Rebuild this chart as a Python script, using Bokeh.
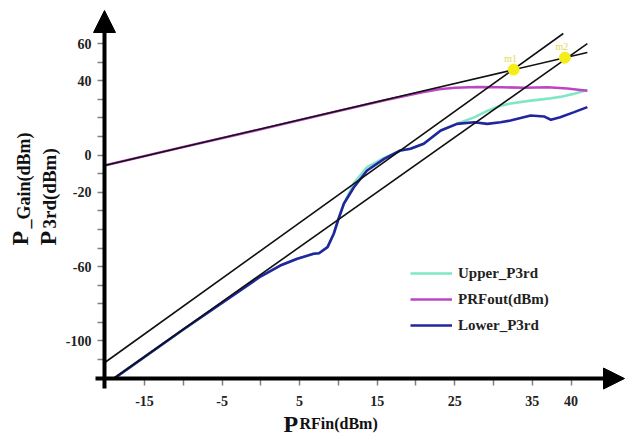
import math
from bokeh.plotting import figure
from bokeh.models import (Range1d, FixedTicker, Label, Arrow, NormalHead,
                          Legend, LegendItem)
from bokeh.core.properties import value
from bokeh.embed import file_html
from bokeh.resources import INLINE

# ---------------- data ----------------
pin_p3rd = [-19.0, -10.0, 0.0, 2.5, 4.7, 6.8, 7.5, 8.6, 9.4, 10.0, 10.7, 12.0,
            13.7, 15.9, 18.0, 19.3, 21.0, 23.2, 25.3, 27.5, 29.2, 30.9, 32.2,
            34.8, 36.5, 37.4, 38.6, 40.4, 42.1]
lower_p3rd = [-120.4, -93.8, -65.2, -59.4, -55.8, -53.1, -52.8, -49.5, -42.3,
              -34.5, -26.2, -17.3, -8.3, -2.0, 2.5, 3.4, 6.1, 13.2, 16.8, 17.7,
              16.8, 17.7, 18.6, 21.3, 20.8, 19.0, 20.4, 23.1, 25.8]
upper_p3rd = [-120.4, -93.8, -65.2, -59.4, -55.8, -53.1, -52.8, -49.5, -42.3,
              -34.5, -26.2, -15.0, -6.5, -1.5, 2.5, 3.4, 6.1, 13.2, 16.9, 20.3,
              23.8, 26.5, 27.8, 29.3, 30.1, 30.6, 31.3, 33.0, 35.0]

pin_prf = [-20.16, -10.0, 0.0, 10.0, 16.0, 19.0, 21.0, 23.0, 25.0, 28.0, 31.0,
           34.0, 37.0, 39.5, 42.1]
prfout = [-5.6, 4.3, 13.9, 23.7, 29.5, 32.2, 34.0, 35.4, 36.2, 36.6, 36.5,
          36.2, 36.5, 35.8, 34.6]

# extrapolation lines (fundamental slope ~1, third order slope ~3)
fund_x = [-20.16, 42.1]
fund_y = [-5.6, 55.2]
upper3_x = [-20.16, 39.0]
upper3_y = [-111.7, 65.4]
lower3_x = [-19.0, 42.1]
lower3_y = [-120.2, 60.0]

# intercept markers
mark_x = [32.6, 39.2]
mark_y = [46.0, 52.4]
mark_names = ["m1", "m2"]

x_ticks = [-15, -10, -5, 0, 5, 10, 15, 20, 25, 30, 35, 40]
x_labeled = [-15, -5, 5, 15, 25, 35, 40]
y_ticks = list(range(-110, 61, 10))
y_labeled = [60, 40, 0, -20, -60, -100]

# axes cross at
X_AX, Y_AX = -20.16, -120.2

# ---------------- layout ----------------
W, H = 625, 439
X0, X1 = -33.57, 47.02
Y0, Y1 = -152.99, 83.16


def dx(px):
    return X0 + px * (X1 - X0) / W


def dy(py):
    return Y1 - py * (Y1 - Y0) / H


FONT = "Liberation Serif"

p = figure(width=W, height=H, output_backend="svg", toolbar_location=None,
           x_range=Range1d(X0, X1), y_range=Range1d(Y0, Y1),
           min_border=0)
p.outline_line_color = None
p.grid.visible = False
p.background_fill_color = "white"
p.border_fill_color = "white"

p.xaxis.fixed_location = Y_AX
p.yaxis.fixed_location = X_AX
for ax, ticks, labeled in ((p.xaxis[0], x_ticks, x_labeled),
                           (p.yaxis[0], y_ticks, y_labeled)):
    ax.ticker = FixedTicker(ticks=ticks)
    ax.major_label_overrides = {t: ("" if t not in labeled else str(t)) for t in ticks}
    ax.axis_line_color = None
    ax.major_tick_line_color = "#808080"
    ax.major_tick_line_width = 1.5
    ax.major_tick_in = 0
    ax.major_tick_out = 7
    ax.minor_tick_line_color = None
    ax.major_label_text_font = FONT
    ax.major_label_text_font_style = "bold"
    ax.major_label_text_font_size = "14px"
    ax.major_label_text_color = "#222222"
p.yaxis.major_label_standoff = 6
p.xaxis.major_label_standoff = 10

# curves
r_up = p.line(pin_p3rd, upper_p3rd, line_color="#7fe6c6", line_width=2.6)
r_prf = p.line(pin_prf, prfout, line_color="#bd45c4", line_width=2.6)
r_low = p.line(pin_p3rd, lower_p3rd, line_color="#2424a0", line_width=2.6)

# extrapolation lines
for xs, ys in ((fund_x, fund_y), (upper3_x, upper3_y), (lower3_x, lower3_y)):
    p.line(xs, ys, line_color="#111111", line_width=1.6)

# markers
p.scatter(mark_x, mark_y, size=11, fill_color="#f4ee16", line_color="#f4ee16")
p.text(x=mark_x, y=mark_y, text=mark_names, x_offset=-3, y_offset=-11,
       text_align="center", text_baseline="middle", text_font_size="10px",
       text_font=value(FONT), text_color="#e3d84a")

# axes with arrows
p.add_layout(Arrow(end=NormalHead(size=22, fill_color="black", line_color="black"),
                   x_start=X_AX, y_start=dy(388), x_end=X_AX, y_end=dy(10),
                   line_width=4, line_color="black"))
p.add_layout(Arrow(end=NormalHead(size=21, fill_color="black", line_color="black"),
                   x_start=dx(95), y_start=Y_AX, x_end=dx(624), y_end=Y_AX,
                   line_width=4, line_color="black"))

# legend
legend = Legend(items=[LegendItem(label="Upper_P3rd", renderers=[r_up]),
                       LegendItem(label="PRFout(dBm)", renderers=[r_prf]),
                       LegendItem(label="Lower_P3rd", renderers=[r_low])],
                location=(410, 104), border_line_color=None,
                background_fill_alpha=0, padding=0, margin=0, spacing=6,
                glyph_width=42, glyph_height=20, label_height=20,
                label_standoff=6, label_text_font=FONT,
                label_text_font_style="bold", label_text_font_size="15px",
                label_text_color="#222222")
p.add_layout(legend)


# axis titles (P with subscripts)
def lab(text, px, py, size, angle=0.0):
    p.add_layout(Label(x=dx(px), y=dy(py), text=text, angle=angle,
                       text_font=FONT, text_font_style="bold",
                       text_font_size=size, text_color="#111111",
                       text_align="left", text_baseline="alphabetic"))


lab("P", 283, 423, "24px")
lab("RFin(dBm)", 299, 423, "16px")
lab("P", 19, 245, "24px", math.pi / 2)
lab("_Gain(dBm)", 23, 228, "18px", math.pi / 2)
lab("P", 47, 245, "24px", math.pi / 2)
lab("3rd(dBm)", 49, 228, "19px", math.pi / 2)

open("out.html", "w").write(file_html(p, INLINE))
